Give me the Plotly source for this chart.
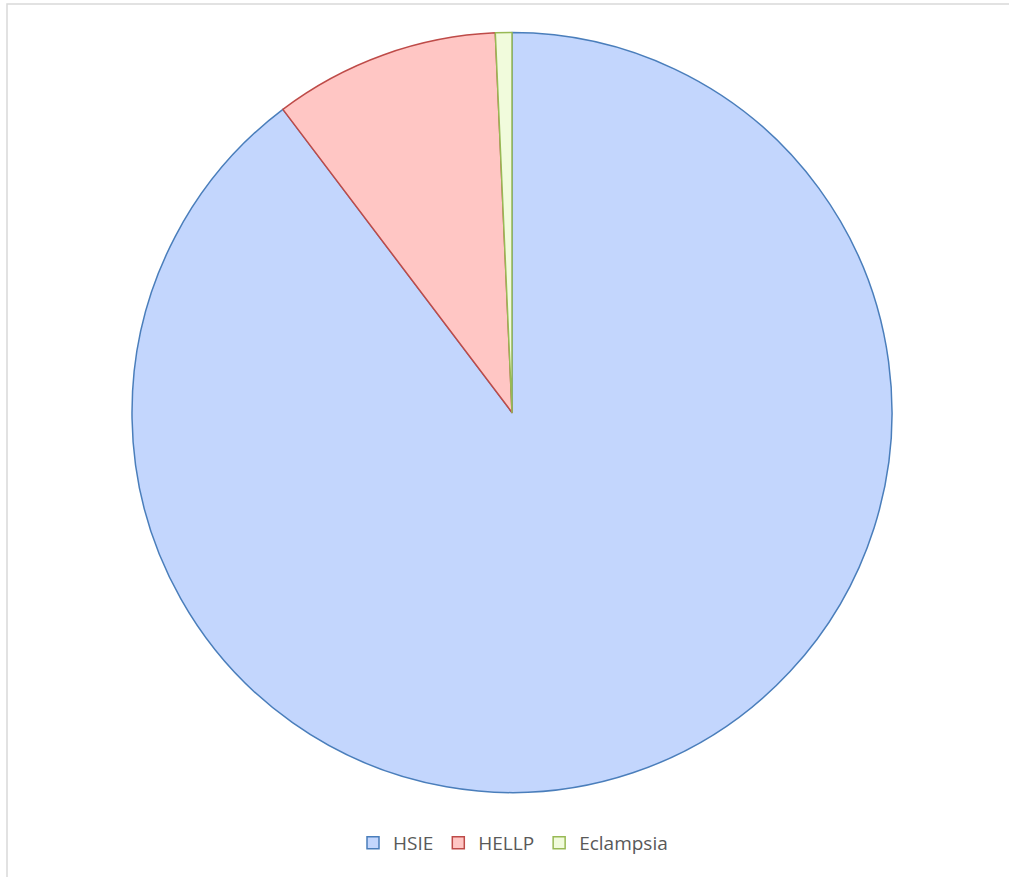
import plotly.graph_objects as go

categories = ["HSIE", "HELLP", "Eclampsia"]
values = [89.7, 9.6, 0.7]
fill_colors = ["#c3d6fd", "#ffc6c4", "#f1fbdc"]
line_colors = ["#4a7ebb", "#be4b48", "#98b954"]

W, H = 1009, 877


def px(x):
    return x / W


def py(y):
    return 1 - y / H


fig = go.Figure(go.Pie(
    labels=categories,
    values=values,
    sort=False,
    direction="clockwise",
    rotation=0,
    textinfo="none",
    hoverinfo="label+percent",
    marker=dict(colors=fill_colors, line=dict(color=line_colors, width=1.5)),
    domain=dict(x=[px(132), px(892)], y=[py(793), py(32)]),
))

fig.update_layout(
    width=W, height=H,
    margin=dict(l=0, r=0, t=0, b=0),
    paper_bgcolor="white",
    showlegend=True,
    legend=dict(
        orientation="h",
        x=px(513), xanchor="center",
        y=py(843), yanchor="middle",
        font=dict(family="Open Sans, Liberation Sans, sans-serif", size=19, color="#595959"),
        itemwidth=30,
        bgcolor="rgba(0,0,0,0)",
    ),
    shapes=[dict(
        type="rect", xref="paper", yref="paper",
        x0=px(7), x1=1.05, y0=-0.05, y1=py(4),
        line=dict(color="#d9d9d9", width=1.5),
        fillcolor="rgba(0,0,0,0)", layer="below",
    )],
)

fig.write_html(
    "out.html",
    config={"displayModeBar": False},
    post_script="document.body.style.margin='0';document.body.style.overflow='hidden';",
)
